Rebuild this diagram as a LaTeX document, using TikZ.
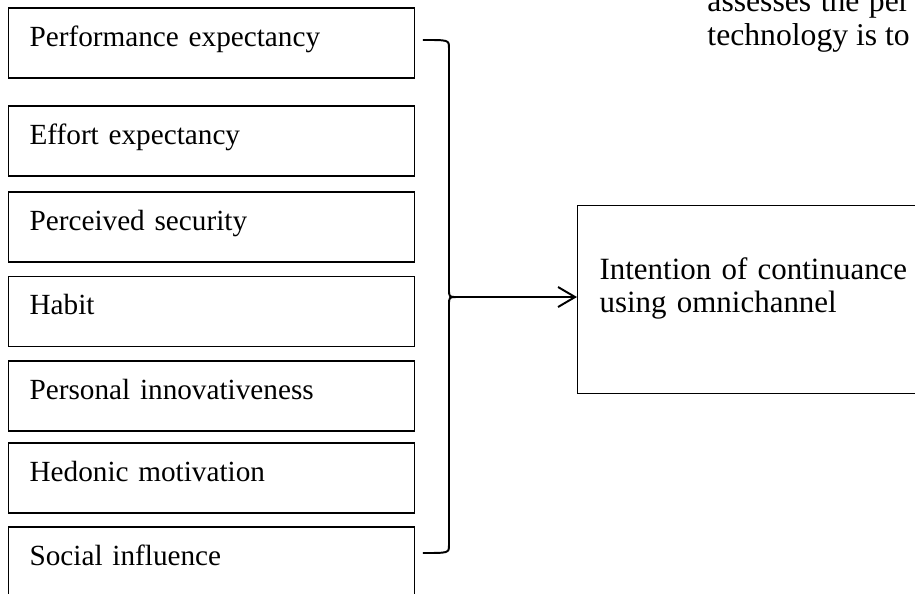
\documentclass[tikz,border=0pt]{standalone}
\usepackage{fontspec}
\setmainfont{Liberation Serif}
\usetikzlibrary{arrows.meta}

\tikzset{
  factor/.style={draw, line width=0.5pt, anchor=west, text width=5.251cm, inner xsep=0.303cm, inner ysep=0pt,
    align=left, text height=15.6pt, text depth=13.1pt, font=\fontsize{12pt}{14pt}\selectfont},
  outcome/.style={draw, line width=0.5pt, anchor=north west, text width=4.8cm, inner xsep=0.317cm, inner ysep=0pt,
    align=left, font=\fontsize{12.7pt}{13.5pt}\selectfont},
  bodytext/.style={anchor=base west, inner sep=0pt, font=\fontsize{13pt}{15pt}\selectfont},
  brace/.style={line width=0.8pt},
}

\begin{document}
\begin{tikzpicture}
\useasboundingbox (0, 0) rectangle (13.2, 8.555);

\node (perf) [factor] at (0.115, 7.934) {Performance expectancy};
\node (effort) [factor] at (0.115, 6.521) {Effort expectancy};
\node (secur) [factor] at (0.115, 5.280) {Perceived security};
\node (habit) [factor] at (0.115, 4.061) {Habit};
\node (innov) [factor] at (0.115, 2.842) {Personal innovativeness};
\node (hedon) [factor] at (0.115, 1.659) {Hedonic motivation};
\node (social) [factor] at (0.115, 0.447) {Social influence};

\node (intent) [outcome] at (8.324, 5.597) {\rule{0pt}{30.4pt}Intention of continuance\\using omnichannel\rule[-33.2pt]{0pt}{33.2pt}};

\coordinate (btop) at (6.102, 7.978);
\coordinate (bbot) at (6.102, 0.577);
\coordinate (cusp) at (6.593, 4.270);
\draw [brace] (btop) .. controls (6.477, 7.978) .. (6.477, 7.862) -- (6.477, 4.39)
  .. controls (6.477, 4.27) .. (cusp) .. controls (6.477, 4.27) .. (6.477, 4.15)
  -- (6.477, 0.692) .. controls (6.477, 0.577) .. (bbot);
\draw [brace, -{Straight Barb[length=7pt,width=8.2pt]}] (cusp) -- (cusp -| intent.west);

\node (line1) [bodytext] at (10.199, 8.382) {assesses\hspace{0.3em}the\hspace{0.3em}per};
\node (line2) [bodytext] at (10.199, 7.905) {technology is to};
\end{tikzpicture}
\end{document}
